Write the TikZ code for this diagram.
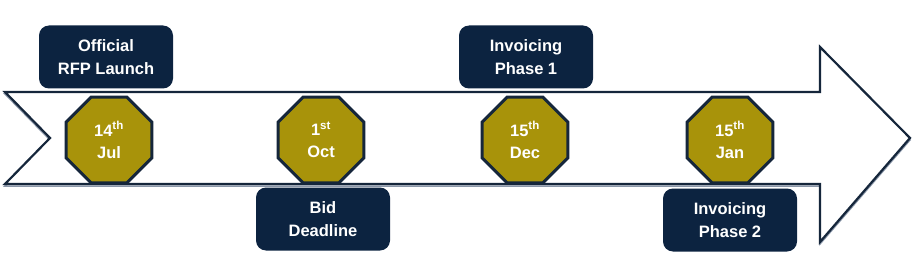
\documentclass[tikz,border=0pt]{standalone}
\usepackage{fontspec}
\setmainfont{Liberation Sans}
\usetikzlibrary{shapes.geometric}
\definecolor{navy}{HTML}{0C2340}
\definecolor{gold}{HTML}{A8930A}
\definecolor{rim}{HTML}{15263B}
\definecolor{haze}{HTML}{8A96A8}
\begin{document}
\begin{tikzpicture}[x=1pt, y=-1pt,
  tagbox/.style={fill=navy, rounded corners=10pt, minimum width=134pt, minimum height=63pt, text=white, align=center, font=\bfseries\fontsize{16.5}{23}\selectfont},
  datebox/.style={regular polygon, regular polygon sides=8, minimum size=93pt, inner sep=0pt, fill=gold, draw=rim, line width=3pt, text=white, align=center, font=\bfseries\fontsize{16.5}{22}\selectfont},
  band/.style={draw=rim, line width=2.2pt, fill=white, line join=miter}
]
\useasboundingbox (0,0) rectangle (916,262);
% timeline arrow
\draw[draw=haze, line width=1.5pt, shift={(0,2)}] (5,92) -- (820,92) -- (820,47) -- (910,138) -- (820,242) -- (820,184) -- (5,184) -- (50,138) -- cycle;
\draw[band] (5,92) -- (820,92) -- (820,47) -- (910,138) -- (820,242) -- (820,184) -- (5,184) -- (50,138) -- cycle;
% milestones
\node[datebox] (jul) at (109,140) {14\textsuperscript{th}\\Jul};
\node[datebox] (oct) at (321,140) {1\textsuperscript{st}\\Oct};
\node[datebox] (dec) at (525,140) {15\textsuperscript{th}\\Dec};
\node[datebox] (jan) at (730,140) {15\textsuperscript{th}\\Jan};
% labels
\node[tagbox] (launch) at (106,57) {Official\\RFP Launch};
\node[tagbox] (deadline) at (323,219) {Bid\\Deadline};
\node[tagbox] (phaseone) at (526,57) {Invoicing\\Phase 1};
\node[tagbox] (phasetwo) at (730,220) {Invoicing\\Phase 2};
\end{tikzpicture}
\end{document}
